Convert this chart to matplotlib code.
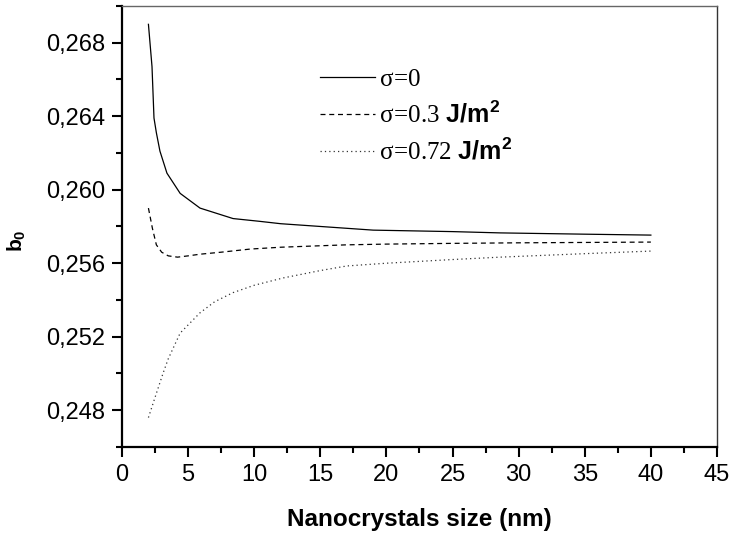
import matplotlib
matplotlib.use("Agg")
from matplotlib import pyplot as plt
from matplotlib.ticker import MultipleLocator, FuncFormatter

plt.rcParams['font.family'] = ['Liberation Sans', 'DejaVu Sans']
plt.rcParams['mathtext.fontset'] = 'custom'
plt.rcParams['mathtext.rm'] = 'Liberation Serif'
plt.rcParams['mathtext.bf'] = 'Liberation Sans:bold'
plt.rcParams['mathtext.it'] = 'Liberation Serif:italic'

# sigma = 0
x0 = [2, 2.27, 2.42, 2.6, 2.87, 3.4, 4.4, 5.9, 8.4, 10.4, 12, 15, 19, 25, 28.6, 35, 40]
b0_0 = [0.2690, 0.2667, 0.2639, 0.2631, 0.2621, 0.2609, 0.2598, 0.2590,
        0.25843, 0.25828, 0.25815, 0.25800, 0.2578, 0.25772, 0.25765, 0.25758,
        0.25753]

# sigma = 0.3 J/m2
x1 = [2, 2.3, 2.6, 3, 3.5, 4.2, 5, 5.9, 7.5, 9.7, 12, 15, 17, 20, 25, 30, 35, 40]
b0_1 = [0.2590, 0.2579, 0.2570, 0.2566, 0.2564, 0.25633, 0.2564, 0.25649,
        0.2566, 0.25677, 0.25687, 0.25695, 0.2570, 0.25704, 0.25708, 0.25711,
        0.25713, 0.25715]

# sigma = 0.72 J/m2
x2 = [2, 2.5, 3.1, 3.5, 4.4, 5.9, 7, 8.4, 10, 12.2, 15, 17, 20, 25, 28.6, 35, 40]
b0_2 = [0.2476, 0.2487, 0.2500, 0.2508, 0.2522, 0.2533, 0.2539, 0.2544,
        0.2548, 0.2552, 0.2556, 0.25585, 0.2560, 0.2562, 0.25633, 0.25652,
        0.25666]

labels = [r"$\mathrm{σ\!=\!0}$",
          r"$\mathrm{σ\!=\!0.3}$ $\mathbf{J/m^2}$",
          r"$\mathrm{σ\!=\!0.72}$ $\mathbf{J/m^2}$"]

fig = plt.figure(figsize=(7.34, 5.41), dpi=100)
ax = fig.add_axes([0.1662, 0.1738, 0.8106, 0.8152])

ax.plot(x0, b0_0, color="black", lw=0.9, label=labels[0])
ax.plot(x1, b0_1, color="black", lw=0.9, ls=(0, (4, 3)), label=labels[1])
ax.plot(x2, b0_2, color="#333333", lw=0.9, ls=(0, (1, 2.5)), label=labels[2])

ax.set_xlim(0, 45)
ax.set_ylim(0.246, 0.270)
ax.xaxis.set_major_locator(MultipleLocator(5))
ax.xaxis.set_minor_locator(MultipleLocator(2.5))
ax.yaxis.set_major_locator(MultipleLocator(0.004))
ax.yaxis.set_minor_locator(MultipleLocator(0.002))
ax.yaxis.set_major_formatter(FuncFormatter(lambda v, p: ("%.3f" % v).replace(".", ",")))

ax.tick_params(which="major", direction="out", length=7, width=1.5, labelsize=17, pad=5)
ax.tick_params(which="minor", direction="out", length=4, width=1.5)
ax.spines["left"].set_linewidth(1.6)
ax.spines["bottom"].set_linewidth(1.6)
ax.spines["top"].set_color("#666666")
ax.spines["right"].set_color("#333333")
ax.spines["top"].set_linewidth(1.0)
ax.spines["right"].set_linewidth(1.0)

ax.set_xlabel("Nanocrystals size (nm)", fontsize=17.5, fontweight="bold")
ax.xaxis.set_label_coords(0.5, -0.138)
ax.set_ylabel(r"$\mathbf{b_0}$", fontsize=15)
ax.yaxis.set_label_coords(-0.158, 0.467)

ax.legend(loc="upper left", bbox_to_anchor=(0.333, 0.862), frameon=False,
          fontsize=18, handlelength=2.2, handletextpad=0.15, labelspacing=0.42,
          borderpad=0, borderaxespad=0)

plt.savefig("out.png", dpi=100)
